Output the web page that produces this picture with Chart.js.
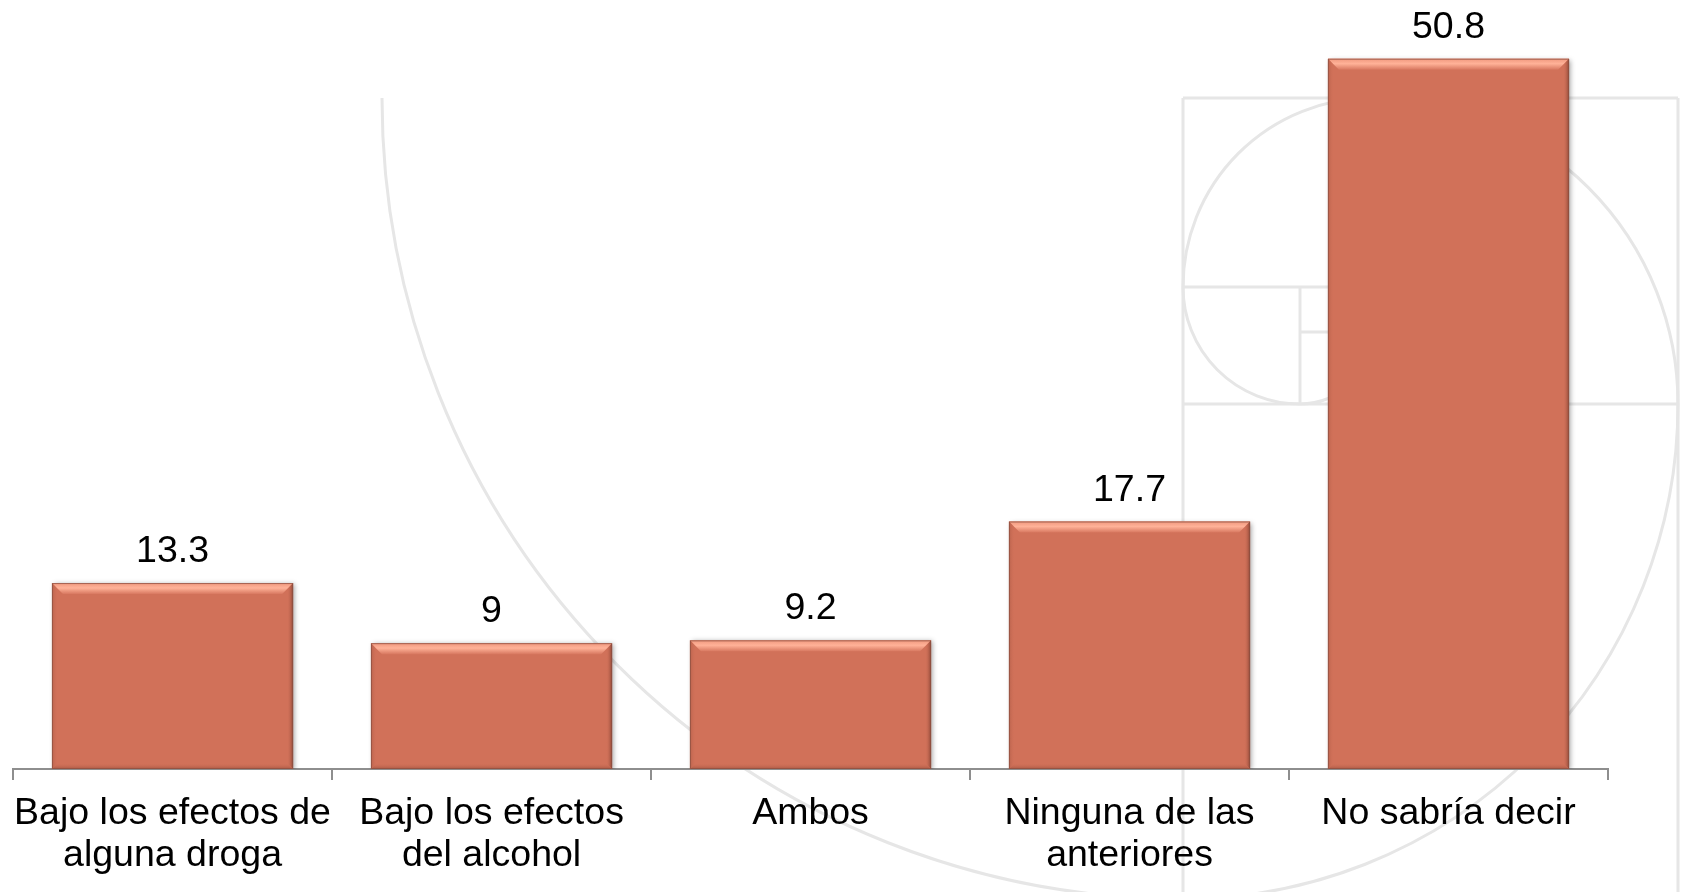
<!DOCTYPE html>
<html>
<head>
<meta charset="utf-8">
<script src="https://cdn.jsdelivr.net/npm/chart.js"></script>
<style>
  html, body { margin: 0; padding: 0; background: #fff; }
  #wrap { width: 1684px; height: 892px; position: relative; }
</style>
</head>
<body>
<div id="wrap"><canvas id="barChart"></canvas></div>
<script>
// Data
const categories = [
  ['Bajo los efectos de', 'alguna droga'],
  ['Bajo los efectos', 'del alcohol'],
  'Ambos',
  ['Ninguna de las', 'anteriores'],
  'No sabría decir'
];
const values = [13.3, 9, 9.2, 17.7, 50.8];
const valueLabels = ['13.3', '9', '9.2', '17.7', '50.8'];

const FONT = '"Liberation Sans", Arial, sans-serif';
const barColor = 'rgb(209,113,89)';

// faint golden spiral in the background
const watermark = {
  id: 'watermark',
  beforeDraw(chart) {
    const ctx = chart.ctx;
    ctx.save();
    ctx.strokeStyle = '#e6e6e6';
    ctx.lineWidth = 3;
    const arcs = [
      [1183, 98, 801, 0.5, 1],
      [1183, 404, 495, 0, 0.5],
      [1372, 404, 306, 1.5, 2],
      [1372, 287, 189, 1, 1.5],
      [1300, 287, 117, 0.5, 1],
      [1300, 332, 72, 0, 0.5]
    ];
    arcs.forEach(a => {
      ctx.beginPath();
      ctx.arc(a[0], a[1], a[2], a[3] * Math.PI, a[4] * Math.PI);
      ctx.stroke();
    });
    const lines = [
      [1183, 98, 1678, 98], [1183, 98, 1183, 892], [1678, 98, 1678, 892],
      [1183, 287, 1372, 287], [1372, 98, 1372, 287], [1183, 404, 1678, 404],
      [1300, 287, 1300, 404], [1300, 332, 1372, 332]
    ];
    lines.forEach(l => {
      ctx.beginPath();
      ctx.moveTo(l[0], l[1]);
      ctx.lineTo(l[2], l[3]);
      ctx.stroke();
    });
    ctx.restore();
  }
};

// soft shadow under bars + bevel look on top
const bevel = {
  id: 'bevel',
  beforeDatasetsDraw(chart) {
    const ctx = chart.ctx;
    ctx.save();
    ctx.shadowColor = 'rgba(0,0,0,0.35)';
    ctx.shadowBlur = 5;
    ctx.shadowOffsetX = 2;
    ctx.shadowOffsetY = 1;
  },
  afterDatasetsDraw(chart) {
    const ctx = chart.ctx;
    ctx.restore();
    ctx.save();
    chart.getDatasetMeta(0).data.forEach(bar => {
      const l = bar.x - bar.width / 2, r = bar.x + bar.width / 2;
      const t = bar.y, b = bar.base;
      const d = 11, s = 6;

      // top face
      let g = ctx.createLinearGradient(0, t, 0, t + d);
      g.addColorStop(0, 'rgb(240,152,126)');
      g.addColorStop(0.45, 'rgb(255,178,152)');
      g.addColorStop(1, 'rgb(216,120,96)');
      ctx.fillStyle = g;
      ctx.beginPath();
      ctx.moveTo(l, t); ctx.lineTo(r, t); ctx.lineTo(r - d, t + d); ctx.lineTo(l + d, t + d);
      ctx.closePath(); ctx.fill();

      // right face
      g = ctx.createLinearGradient(r, 0, r - s, 0);
      g.addColorStop(0, 'rgb(140,70,54)');
      g.addColorStop(1, 'rgba(209,113,89,0)');
      ctx.fillStyle = g;
      ctx.beginPath();
      ctx.moveTo(r, t); ctx.lineTo(r, b); ctx.lineTo(r - s, b - s); ctx.lineTo(r - s, t + d);
      ctx.lineTo(r - d, t + d);
      ctx.closePath(); ctx.fill();

      // left face
      g = ctx.createLinearGradient(l, 0, l + s, 0);
      g.addColorStop(0, 'rgb(185,98,76)');
      g.addColorStop(1, 'rgba(209,113,89,0)');
      ctx.fillStyle = g;
      ctx.beginPath();
      ctx.moveTo(l, t); ctx.lineTo(l + d, t + d); ctx.lineTo(l + s, t + d);
      ctx.lineTo(l + s, b - s); ctx.lineTo(l, b);
      ctx.closePath(); ctx.fill();

      // bottom face
      g = ctx.createLinearGradient(0, b, 0, b - s);
      g.addColorStop(0, 'rgb(170,88,68)');
      g.addColorStop(1, 'rgba(209,113,89,0)');
      ctx.fillStyle = g;
      ctx.beginPath();
      ctx.moveTo(l, b); ctx.lineTo(r, b); ctx.lineTo(r - s, b - s); ctx.lineTo(l + s, b - s);
      ctx.closePath(); ctx.fill();

      // outline
      ctx.strokeStyle = 'rgba(140,80,65,0.75)';
      ctx.lineWidth = 1;
      ctx.strokeRect(l + 0.5, t + 0.5, r - l - 1, b - t - 1);
    });
    ctx.restore();
  }
};

// value labels above bars
const valueText = {
  id: 'valueText',
  afterDatasetsDraw(chart) {
    const ctx = chart.ctx;
    ctx.save();
    ctx.fillStyle = '#000';
    ctx.font = '37.5px ' + FONT;
    ctx.textAlign = 'center';
    ctx.textBaseline = 'alphabetic';
    chart.getDatasetMeta(0).data.forEach((bar, i) => {
      ctx.fillText(valueLabels[i], bar.x, bar.y - 21);
    });
    ctx.restore();
  }
};

new Chart(document.getElementById('barChart'), {
  type: 'bar',
  data: {
    labels: categories,
    datasets: [{
      data: values,
      backgroundColor: barColor,
      borderWidth: 0,
      barPercentage: 0.756,
      categoryPercentage: 1
    }]
  },
  options: {
    responsive: true,
    maintainAspectRatio: false,
    animation: false,
    layout: { padding: { left: 11, right: 76, top: 0, bottom: 0 } },
    plugins: {
      legend: { display: false },
      tooltip: { enabled: false }
    },
    scales: {
      x: {
        afterFit(scale) { scale.height = 123; },
        border: { display: true, color: '#8e8e8e', width: 2 },
        grid: {
          offset: true,
          drawOnChartArea: false,
          drawTicks: true,
          tickLength: 11,
          color: '#8e8e8e',
          lineWidth: 2
        },
        ticks: {
          color: '#000',
          font: { family: FONT, size: 37.5, lineHeight: 1.12 },
          padding: 13,
          maxRotation: 0,
          minRotation: 0,
          autoSkip: false
        }
      },
      y: {
        display: false,
        min: 0,
        max: 55
      }
    }
  },
  plugins: [watermark, bevel, valueText]
});
</script>
</body>
</html>
